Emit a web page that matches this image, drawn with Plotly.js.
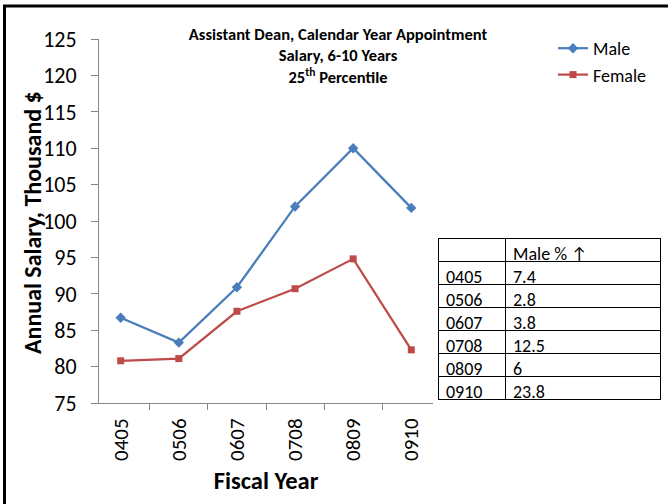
<!DOCTYPE html>
<html>
<head>
<meta charset="utf-8">
<script src="https://cdn.plot.ly/plotly-3.0.1.min.js"></script>
<style>
  html, body { margin: 0; padding: 0; background: #fff; }
  #chart { width: 668px; height: 504px; }
</style>
</head>
<body>
<div id="chart"></div>
<script>
const years = ['0405', '0506', '0607', '0708', '0809', '0910'];
const male = [86.7, 83.3, 90.9, 102.0, 110.0, 101.8];
const female = [80.8, 81.1, 87.6, 90.7, 94.8, 82.3];
const malePctHeader = ['', 'Male % \u2191'];
const malePct = ['7.4', '2.8', '3.8', '12.5', '6', '23.8'];

const W = 668, H = 504;
const FONT = 'Carlito, Lato, "Liberation Sans", sans-serif';
const axisGray = '#868686';

const maleTrace = {
    x: years,
    y: male,
    name: 'Male',
    type: 'scatter',
    mode: 'lines+markers',
    line: { color: '#4A7EBB', width: 2.25 },
    marker: { symbol: 'diamond', size: 8, color: '#4A7EBB' },
    legendgroup: 'm',
};

const femaleTrace = {
    x: years,
    y: female,
    name: 'Female',
    type: 'scatter',
    mode: 'lines+markers',
    line: { color: '#BE4B48', width: 2.25 },
    marker: { symbol: 'square', size: 7, color: '#BE4B48' },
    legendgroup: 'f',
};

// small table to the right of the plot
const tableTrace = {
    type: 'table',
    domain: { x: [438 / W, 660 / W], y: [(H - 403) / H, (H - 238) / H] },
    columnwidth: [67, 155],
    header: {
        values: malePctHeader,
        align: 'left',
        height: 23,
        font: { family: FONT, size: 18, color: '#000' },
        line: { color: '#000', width: 1 },
        fill: { color: '#fff' },
    },
    cells: {
        values: [years, malePct],
        align: 'left',
        height: 23,
        font: { family: FONT, size: 18, color: '#000' },
        line: { color: '#000', width: 1 },
        fill: { color: '#fff' },
    },
};

const layout = {
    width: W,
    height: H,
    margin: { l: 0, r: 0, t: 0, b: 0 },
    paper_bgcolor: '#fff',
    plot_bgcolor: '#fff',
    font: { family: FONT, color: '#000' },
    showlegend: true,
    title: {
        text: 'Assistant Dean, Calendar Year Appointment<br>Salary, 6-10 Years<br>25<sup>th</sup> Percentile',
        font: { family: FONT, size: 16.5, weight: 'bold', color: '#000' },
        xref: 'container',
        yref: 'container',
        x: 338 / W,
        xanchor: 'center',
        y: 1 - 40 / H,
        yanchor: 'top',
    },
    legend: {
        x: 553 / W,
        y: 1 - 30 / H,
        xanchor: 'left',
        yanchor: 'top',
        itemwidth: 30,
        font: { family: FONT, size: 18, color: '#000' },
        tracegroupgap: 0,
        bgcolor: 'rgba(0,0,0,0)',
    },
    xaxis: {
        domain: [99 / W, 433 / W],
        type: 'category',
        tickangle: -90,
        tickson: 'boundaries',
        ticks: 'outside',
        ticklen: 6,
        tickcolor: axisGray,
        showline: true,
        linecolor: axisGray,
        linewidth: 1,
        showgrid: false,
        zeroline: false,
        ticklabelstandoff: 6,
        tickfont: { family: FONT, size: 21, color: '#000' },
        title: {
            text: 'Fiscal Year',
            font: { family: FONT, size: 24.5, weight: 'bold', color: '#000' },
            standoff: 11,
        },
        automargin: false,
    },
    yaxis: {
        domain: [(H - 403) / H, (H - 39) / H],
        range: [75, 125],
        dtick: 5,
        ticks: 'outside',
        ticklen: 7,
        tickcolor: axisGray,
        showline: true,
        linecolor: axisGray,
        linewidth: 1,
        showgrid: false,
        zeroline: false,
        ticklabelstandoff: 10,
        tickfont: { family: FONT, size: 22, color: '#000' },
        automargin: false,
    },
    annotations: [{
        // y axis title, placed by hand so it sits where the reference has it
        text: 'Annual Salary, Thousand $',
        font: { family: FONT, size: 24, weight: 'bold', color: '#000' },
        textangle: -90,
        xref: 'paper',
        yref: 'paper',
        x: 32 / W,
        y: 1 - 223 / H,
        xanchor: 'center',
        yanchor: 'middle',
        showarrow: false,
    }],
    shapes: [{
        type: 'rect',
        xref: 'paper',
        yref: 'paper',
        x0: 4.5 / W,
        x1: 1.2,
        y0: -0.2,
        y1: 1 - 6 / H,
        line: { color: '#000', width: 3 },
        layer: 'above',
    }],
};

Plotly.newPlot('chart', [maleTrace, femaleTrace, tableTrace], layout, { staticPlot: true });
</script>
</body>
</html>
